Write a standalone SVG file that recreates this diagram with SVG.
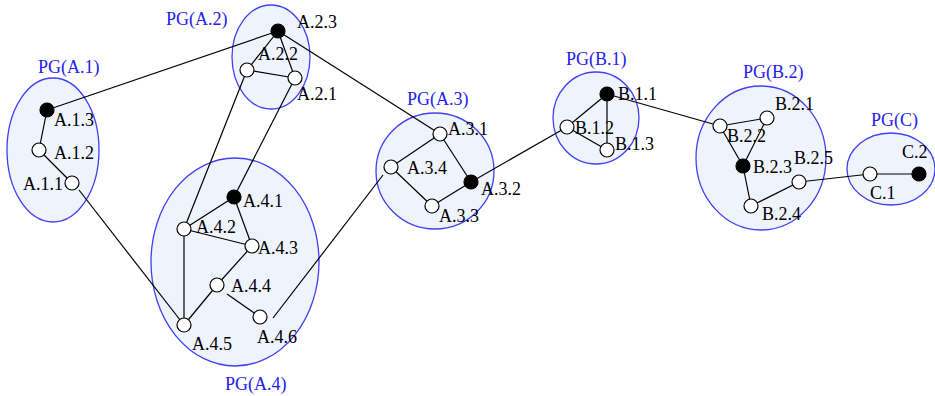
<svg xmlns="http://www.w3.org/2000/svg" width="935" height="396" viewBox="0 0 935 396">
<style>
.pg{fill:#eef3fc;stroke:#4040f0;stroke-width:1.3}
.pl{font-family:"Liberation Serif","Times New Roman",serif;font-size:18px;fill:#2222ee}
.nl{font-family:"Liberation Serif","Times New Roman",serif;font-size:18px;fill:#000}
.n{fill:#fff;stroke:#000;stroke-width:1.2}
.f{fill:#000;stroke:#000;stroke-width:1.2}
#edges line{stroke:#000;stroke-width:1.2}
</style>
<rect width="935" height="396" fill="#fff"/>
<g id="groups">
<g id="PG_A1"><ellipse class="pg" cx="53" cy="150" rx="46" ry="72"/><text class="pl" x="38" y="73">PG(A.1)</text></g>
<g id="PG_A2"><ellipse class="pg" cx="271" cy="57" rx="39" ry="52"/><text class="pl" x="166" y="25">PG(A.2)</text></g>
<g id="PG_A4"><ellipse class="pg" cx="235" cy="262" rx="84" ry="104"/><text class="pl" x="225" y="390">PG(A.4)</text></g>
<g id="PG_A3"><ellipse class="pg" cx="435" cy="171" rx="59" ry="58"/><text class="pl" x="407" y="105">PG(A.3)</text></g>
<g id="PG_B1"><ellipse class="pg" cx="596" cy="118" rx="43" ry="46"/><text class="pl" x="566" y="65">PG(B.1)</text></g>
<g id="PG_B2"><ellipse class="pg" cx="761" cy="158" rx="65" ry="72"/><text class="pl" x="743" y="78">PG(B.2)</text></g>
<g id="PG_C"><ellipse class="pg" cx="891" cy="169" rx="44" ry="36"/><text class="pl" x="871" y="126">PG(C)</text></g>
</g>
<g id="edges">
<line x1="47" y1="110" x2="278" y2="31"/>
<line x1="47" y1="110" x2="39" y2="150"/>
<line x1="39" y1="150" x2="72" y2="183"/>
<line x1="79" y1="190" x2="184" y2="325"/>
<line x1="278" y1="31" x2="247" y2="70"/>
<line x1="278" y1="31" x2="295" y2="78"/>
<line x1="278" y1="31" x2="440" y2="134"/>
<line x1="247" y1="70" x2="295" y2="78"/>
<line x1="247" y1="70" x2="184" y2="229"/>
<line x1="295" y1="78" x2="234" y2="197"/>
<line x1="234" y1="197" x2="184" y2="229"/>
<line x1="234" y1="197" x2="252" y2="246"/>
<line x1="184" y1="229" x2="252" y2="246"/>
<line x1="184" y1="229" x2="184" y2="325"/>
<line x1="252" y1="246" x2="217" y2="285"/>
<line x1="217" y1="285" x2="184" y2="325"/>
<line x1="227" y1="294" x2="260" y2="317"/>
<line x1="273" y1="318" x2="383" y2="175"/>
<line x1="440" y1="134" x2="391" y2="167"/>
<line x1="440" y1="134" x2="471" y2="182"/>
<line x1="391" y1="167" x2="432" y2="206"/>
<line x1="432" y1="206" x2="471" y2="182"/>
<line x1="471" y1="182" x2="567" y2="127"/>
<line x1="607" y1="94" x2="567" y2="127"/>
<line x1="607" y1="94" x2="607" y2="150"/>
<line x1="567" y1="127" x2="607" y2="150"/>
<line x1="607" y1="94" x2="720" y2="126"/>
<line x1="720" y1="126" x2="767" y2="118"/>
<line x1="720" y1="126" x2="743" y2="166"/>
<line x1="767" y1="118" x2="743" y2="166"/>
<line x1="743" y1="166" x2="751" y2="206"/>
<line x1="751" y1="206" x2="799" y2="182"/>
<line x1="799" y1="182" x2="870" y2="174"/>
<line x1="870" y1="174" x2="919" y2="174"/>
</g>
<g id="nodes">
<g id="A13"><circle class="f" cx="47" cy="110" r="7"/><text class="nl" x="54" y="126">A.1.3</text></g>
<g id="A12"><circle class="n" cx="39" cy="150" r="7"/><text class="nl" x="54" y="159">A.1.2</text></g>
<g id="A11"><circle class="n" cx="72" cy="183" r="7"/><text class="nl" x="23" y="190">A.1.1</text></g>
<g id="A23"><circle class="f" cx="278" cy="31" r="7"/><text class="nl" x="297" y="28">A.2.3</text></g>
<g id="A22"><circle class="n" cx="247" cy="70" r="7"/><text class="nl" x="258" y="60">A.2.2</text></g>
<g id="A21"><circle class="n" cx="295" cy="78" r="7"/><text class="nl" x="297" y="100">A.2.1</text></g>
<g id="A41"><circle class="f" cx="234" cy="197" r="7"/><text class="nl" x="243" y="207">A.4.1</text></g>
<g id="A42"><circle class="n" cx="184" cy="229" r="7"/><text class="nl" x="196" y="233">A.4.2</text></g>
<g id="A43"><circle class="n" cx="252" cy="246" r="7"/><text class="nl" x="258" y="254">A.4.3</text></g>
<g id="A44"><circle class="n" cx="217" cy="285" r="7"/><text class="nl" x="231" y="292">A.4.4</text></g>
<g id="A45"><circle class="n" cx="184" cy="325" r="7"/><text class="nl" x="192" y="350">A.4.5</text></g>
<g id="A46"><circle class="n" cx="260" cy="317" r="7"/><text class="nl" x="257" y="343">A.4.6</text></g>
<g id="A31"><circle class="n" cx="440" cy="134" r="7"/><text class="nl" x="448" y="135">A.3.1</text></g>
<g id="A34"><circle class="n" cx="391" cy="167" r="7"/><text class="nl" x="407" y="174">A.3.4</text></g>
<g id="A32"><circle class="f" cx="471" cy="182" r="7"/><text class="nl" x="481" y="195">A.3.2</text></g>
<g id="A33"><circle class="n" cx="432" cy="206" r="7"/><text class="nl" x="439" y="222">A.3.3</text></g>
<g id="B11"><circle class="f" cx="607" cy="94" r="7"/><text class="nl" x="618" y="100">B.1.1</text></g>
<g id="B12"><circle class="n" cx="567" cy="127" r="7"/><text class="nl" x="575" y="134">B.1.2</text></g>
<g id="B13"><circle class="n" cx="607" cy="150" r="7"/><text class="nl" x="615" y="150">B.1.3</text></g>
<g id="B21"><circle class="n" cx="767" cy="118" r="7"/><text class="nl" x="775" y="110">B.2.1</text></g>
<g id="B22"><circle class="n" cx="720" cy="126" r="7"/><text class="nl" x="727" y="142">B.2.2</text></g>
<g id="B23"><circle class="f" cx="743" cy="166" r="7"/><text class="nl" x="753" y="173">B.2.3</text></g>
<g id="B25"><circle class="n" cx="799" cy="182" r="7"/><text class="nl" x="794" y="164">B.2.5</text></g>
<g id="B24"><circle class="n" cx="751" cy="206" r="7"/><text class="nl" x="762" y="220">B.2.4</text></g>
<g id="C1"><circle class="n" cx="870" cy="174" r="7"/><text class="nl" x="870" y="199">C.1</text></g>
<g id="C2"><circle class="f" cx="919" cy="174" r="7"/><text class="nl" x="902" y="158">C.2</text></g>
</g>
</svg>
